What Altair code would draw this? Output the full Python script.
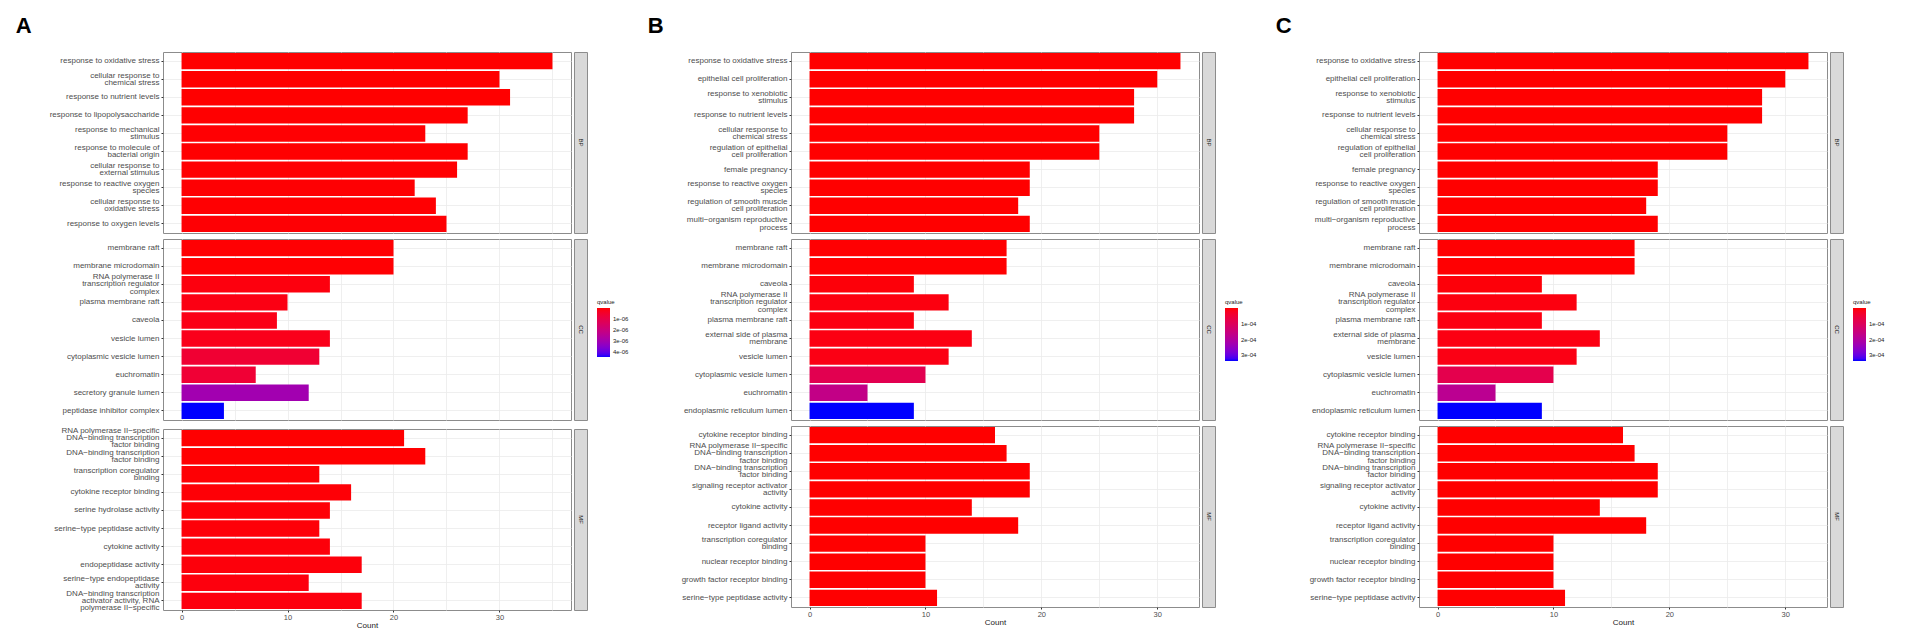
import altair as alt
import pandas as pd

# ---------------- Panel A ----------------
A_BP_terms = ["response to oxidative stress", "cellular response to\nchemical stress",
              "response to nutrient levels", "response to lipopolysaccharide",
              "response to mechanical\nstimulus", "response to molecule of\nbacterial origin",
              "cellular response to\nexternal stimulus", "response to reactive oxygen\nspecies",
              "cellular response to\noxidative stress", "response to oxygen levels"]
A_BP_count = [35, 30, 31, 27, 23, 27, 26, 22, 24, 25]
A_BP_q = [1.0e-12, 4.0e-10, 3.5e-10, 8.0e-09, 2.0e-08, 9.0e-09, 1.5e-08, 2.5e-08, 1.8e-08, 3.0e-08]

A_CC_terms = ["membrane raft", "membrane microdomain",
              "RNA polymerase II\ntranscription regulator\ncomplex", "plasma membrane raft",
              "caveola", "vesicle lumen", "cytoplasmic vesicle lumen", "euchromatin",
              "secretory granule lumen", "peptidase inhibitor complex"]
A_CC_count = [20, 20, 14, 10, 9, 14, 13, 7, 12, 4]
A_CC_q = [2.0e-08, 2.0e-08, 1.0e-07, 1.5e-07, 1.8e-07, 2.2e-07, 6.0e-07, 6.3e-07, 3.0e-06, 4.45e-06]

A_MF_terms = ["RNA polymerase II\u2212specific\nDNA\u2212binding transcription\nfactor binding",
              "DNA\u2212binding transcription\nfactor binding", "transcription coregulator\nbinding",
              "cytokine receptor binding", "serine hydrolase activity",
              "serine\u2212type peptidase activity", "cytokine activity", "endopeptidase activity",
              "serine\u2212type endopeptidase\nactivity",
              "DNA\u2212binding transcription\nactivator activity, RNA\npolymerase II\u2212specific"]
A_MF_count = [21, 23, 13, 16, 14, 13, 14, 17, 12, 17]
A_MF_q = [5e-09, 6e-09, 3e-08, 4e-08, 5e-08, 6e-08, 7e-08, 8e-08, 9e-08, 1e-07]

# ---------------- Panel B ----------------
B_BP_terms = ["response to oxidative stress", "epithelial cell proliferation",
              "response to xenobiotic\nstimulus", "response to nutrient levels",
              "cellular response to\nchemical stress", "regulation of epithelial\ncell proliferation",
              "female pregnancy", "response to reactive oxygen\nspecies",
              "regulation of smooth muscle\ncell proliferation",
              "multi\u2212organism reproductive\nprocess"]
B_BP_count = [32, 30, 28, 28, 25, 25, 19, 19, 18, 19]
B_BP_q = [1e-10, 2e-10, 5e-10, 6e-10, 1e-09, 2e-09, 5e-09, 8e-09, 1e-08, 2e-08]

B_CC_terms = ["membrane raft", "membrane microdomain", "caveola",
              "RNA polymerase II\ntranscription regulator\ncomplex", "plasma membrane raft",
              "external side of plasma\nmembrane", "vesicle lumen", "cytoplasmic vesicle lumen",
              "euchromatin", "endoplasmic reticulum lumen"]
B_CC_count = [17, 17, 9, 12, 9, 14, 12, 10, 5, 9]
B_CC_q = [1e-06, 1e-06, 5e-06, 8e-06, 9e-06, 1.0e-05, 1.2e-05, 0.85e-04, 1.65e-04, 3.35e-04]

B_MF_terms = ["cytokine receptor binding",
              "RNA polymerase II\u2212specific\nDNA\u2212binding transcription\nfactor binding",
              "DNA\u2212binding transcription\nfactor binding",
              "signaling receptor activator\nactivity", "cytokine activity",
              "receptor ligand activity", "transcription coregulator\nbinding",
              "nuclear receptor binding", "growth factor receptor binding",
              "serine\u2212type peptidase activity"]
B_MF_count = [16, 17, 19, 19, 14, 18, 10, 10, 10, 11]
B_MF_q = [1e-08, 2e-08, 3e-08, 4e-08, 5e-08, 6e-08, 1e-07, 2e-07, 3e-07, 4e-07]

# ---------------- Panel C ----------------
C_BP_terms = list(B_BP_terms)
C_BP_count = [32, 30, 28, 28, 25, 25, 19, 19, 18, 19]
C_BP_q = [1e-10, 2e-10, 5e-10, 6e-10, 1e-09, 2e-09, 5e-09, 8e-09, 1e-08, 2e-08]

C_CC_terms = list(B_CC_terms)
C_CC_count = [17, 17, 9, 12, 9, 14, 12, 10, 5, 9]
C_CC_q = [1e-06, 1e-06, 5e-06, 8e-06, 9e-06, 1.0e-05, 1.2e-05, 0.8e-04, 1.8e-04, 3.35e-04]

C_MF_terms = list(B_MF_terms)
C_MF_count = [16, 17, 19, 19, 14, 18, 10, 10, 10, 11]
C_MF_q = [1e-08, 2e-08, 3e-08, 4e-08, 5e-08, 6e-08, 1e-07, 2e-07, 3e-07, 4e-07]

A_legend_values = [1e-06, 2e-06, 3e-06, 4e-06]
BC_legend_values = [1e-04, 2e-04, 3e-04]

FONT = "Liberation Sans"
LABEL_COLOR = "#4d4d4d"
BORDER = "#8c8c8c"
GRID = "#ebebeb"
PLOT_W = 408
ROW_H = 181
STRIP_W = 13
LINE_H = 7.3


def frame(terms, counts, qs):
    return pd.DataFrame({"term": terms, "Count": counts, "qvalue": qs})


def color_enc(qdom, legend):
    return alt.Color("nq:Q",
                     scale=alt.Scale(domain=qdom, range=["blue", "red"], interpolate="lab"),
                     legend=legend)


def facet_row(df, ont, xmax, qdom, bottom, legend=None, panel_df=None):
    order = list(df["term"])
    ticks_vals = list(range(0, int(xmax * 1.05) + 1, 5))
    xaxis = alt.Axis(values=ticks_vals, labels=bottom, ticks=bottom, domain=False,
                     grid=True, gridColor=GRID, gridWidth=0.8,
                     labelExpr="datum.value % 10 === 0 ? datum.label : ''",
                     tickOpacity={"condition": {"test": "datum.value % 10 !== 0", "value": 0},
                                  "value": 1},
                     tickColor="#333333", tickSize=2, labelFontSize=7.5, labelColor=LABEL_COLOR,
                     labelFont=FONT, labelPadding=1, title="Count" if bottom else "",
                     titleFontSize=8, titleFont=FONT, titleFontWeight="normal",
                     titleColor="#1a1a1a", titlePadding=1)
    yaxis = alt.Axis(labelExpr="split(datum.label, '\\n')", labelFontSize=8,
                     labelColor=LABEL_COLOR, labelFont=FONT, labelLineHeight=LINE_H,
                     labelOffset={"condition": [
                         {"test": "length(split(datum.label, '\\n')) === 3", "value": -LINE_H},
                         {"test": "length(split(datum.label, '\\n')) === 2", "value": -LINE_H / 2}],
                         "value": 0},
                     tickSize=2, tickColor="#333333", domain=False, grid=True,
                     gridColor=GRID, gridWidth=0.8, bandPosition=0.5, labelPadding=2,
                     labelLimit=300, title="")
    bars = alt.Chart(df).transform_calculate(nq="-datum.qvalue").mark_bar().encode(
        x=alt.X("Count:Q", scale=alt.Scale(domain=[-xmax * 0.05, xmax * 1.05], nice=False, zero=False),
                axis=xaxis),
        y=alt.Y("term:N", sort=order, scale=alt.Scale(paddingInner=0.09, paddingOuter=0.05),
                axis=yaxis),
        color=color_enc(qdom, None),
    ).properties(width=PLOT_W, height=ROW_H,
                 view=alt.ViewBackground(stroke=BORDER, strokeWidth=1, fill="white"))

    strip_text = alt.Chart(pd.DataFrame({"ont": [ont]})).mark_text(
        angle=90, fontSize=6, font=FONT, color="#1a1a1a").encode(text="ont:N")
    layers = [strip_text]
    if legend is not None:
        leg = alt.Chart(panel_df).transform_calculate(nq="-datum.qvalue").mark_rect(
            strokeWidth=0).encode(
            x=alt.value(0), x2=alt.value(0), y=alt.value(0), y2=alt.value(0),
            color=color_enc(qdom, legend))
        layers.append(leg)
    strip = alt.layer(*layers).properties(
        width=STRIP_W, height=ROW_H,
        view=alt.ViewBackground(stroke=BORDER, strokeWidth=1, fill="#d9d9d9"))
    return alt.hconcat(bars, strip, spacing=1).resolve_scale(color="independent")


def panel(letter, parts, legend_values, grad_len):
    all_df = pd.concat([frame(*p) for p in parts], ignore_index=True)
    xmax = float(all_df["Count"].max())
    qdom = [-float(all_df["qvalue"].max()), -float(all_df["qvalue"].min())]
    legend = alt.Legend(orient="none", legendX=STRIP_W + 10, legendY=60, title="qvalue",
                        values=[-v for v in legend_values],
                        labelExpr="replace(format(-datum.value, '.0e'), 'e-', 'e-0')",
                        gradientLength=grad_len, gradientThickness=13, gradientStrokeWidth=0,
                        titleFontSize=6, titleFontWeight="normal", titleFont=FONT,
                        titleColor="#1a1a1a", titlePadding=3, labelFontSize=6, labelFont=FONT,
                        labelColor="#1a1a1a", labelOffset=3, direction="vertical")
    rows = []
    for i, (p, ont) in enumerate(zip(parts, ["BP", "CC", "MF"])):
        rows.append(facet_row(frame(*p), ont, xmax, qdom, bottom=(i == 2),
                              legend=legend if ont == "CC" else None,
                              panel_df=all_df))
    return alt.vconcat(*rows, spacing=4).resolve_scale(color="independent").properties(
        title=alt.TitleParams(letter, anchor="start", fontSize=22, fontWeight="bold", font=FONT,
                              color="black", dx=-33, offset=14))


pA = panel("A", [(A_BP_terms, A_BP_count, A_BP_q), (A_CC_terms, A_CC_count, A_CC_q),
                 (A_MF_terms, A_MF_count, A_MF_q)], A_legend_values, 49)
pB = panel("B", [(B_BP_terms, B_BP_count, B_BP_q), (B_CC_terms, B_CC_count, B_CC_q),
                 (B_MF_terms, B_MF_count, B_MF_q)], BC_legend_values, 53)
pC = panel("C", [(C_BP_terms, C_BP_count, C_BP_q), (C_CC_terms, C_CC_count, C_CC_q),
                 (C_MF_terms, C_MF_count, C_MF_q)], BC_legend_values, 53)

chart = alt.hconcat(pA, pB, pC, spacing=17).resolve_scale(color="independent").properties(
    padding={"left": 7, "top": 6, "right": 0, "bottom": 0}
).configure_view(strokeWidth=0).configure(background="white")

chart.save("out.html", embed_options={"renderer": "svg", "actions": False})
